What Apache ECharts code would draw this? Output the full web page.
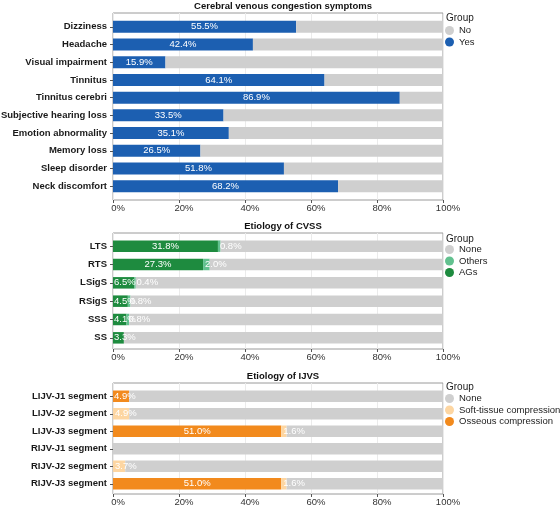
<html>
<head>
    <meta charset="utf-8">
    <script src="https://cdn.jsdelivr.net/npm/echarts@6/dist/echarts.min.js"></script>
    <style>
        body { margin: 0; background: #fff; }
    </style>
</head>
<body>
<div id="main" style="width: 560px;height:508px;"></div>
</body>
<script type="text/javascript">
    // panel 1 : symptoms
    var symptoms = ['Dizziness', 'Headache', 'Visual impairment', 'Tinnitus', 'Tinnitus cerebri',
        'Subjective hearing loss', 'Emotion abnormality', 'Memory loss', 'Sleep disorder', 'Neck discomfort'];
    var symptomYes = [55.5, 42.4, 15.9, 64.1, 86.9, 33.5, 35.1, 26.5, 51.8, 68.2];
    var symptomNo = [44.5, 57.6, 84.1, 35.9, 13.1, 66.5, 64.9, 73.5, 48.2, 31.8];

    // panel 2 : etiology of CVSS
    var sinuses = ['LTS', 'RTS', 'LSigS', 'RSigS', 'SSS', 'SS'];
    var cvssAGs = [31.8, 27.3, 6.5, 4.5, 4.1, 3.3];
    var cvssOthers = [0.8, 2.0, 0.4, 0.8, 0.8, 0];
    var cvssNone = [67.4, 70.7, 93.1, 94.7, 95.1, 96.7];

    // panel 3 : etiology of IJVS
    var segments = ['LIJV-J1 segment', 'LIJV-J2 segment', 'LIJV-J3 segment',
        'RIJV-J1 segment', 'RIJV-J2 segment', 'RIJV-J3 segment'];
    var ijvOsseous = [4.9, 0, 51.0, 0, 0, 51.0];
    var ijvSoft = [0, 4.9, 1.6, 0, 3.7, 1.6];
    var ijvNone = [95.1, 95.1, 47.4, 100, 96.3, 47.4];

    var tickLabels = ['0%', '20%', '40%', '60%', '80%', '100%'];

    var FONT = '"Liberation Sans", Arial, sans-serif';
    var FS = 9.5;
    var GREY = '#cfcfcf';

    var myChart = echarts.init(document.getElementById('main'));

    // panel frames (outer box) and inner bar areas
    var panels = [
        {frameTop: 13, frameH: 187, barTop: 18, barH: 177},
        {frameTop: 233, frameH: 116, barTop: 237, barH: 110},
        {frameTop: 383, frameH: 111, barTop: 387.5, barH: 105}
    ];
    var catLists = [symptoms, sinuses, segments];

    var grids = [], xAxes = [], yAxes = [];
    panels.forEach(function (p, i) {
        // frame grid
        grids.push({left: 113, width: 330, top: p.frameTop, height: p.frameH, outerBoundsMode: 'none',
            show: true, borderColor: '#9a9a9a', borderWidth: 1, backgroundColor: '#fff'});
        xAxes.push({type: 'value', gridIndex: 2 * i, min: 0, max: 100, interval: 20,
            axisLine: {show: false},
            axisTick: {show: true, length: 3, lineStyle: {color: '#555'}},
            splitLine: {show: true, lineStyle: {color: '#ebebeb', width: 1}},
            axisLabel: {fontSize: FS, color: '#333', fontFamily: FONT, margin: 3,
                padding: [0, 0, 0, 10],
                formatter: function (v) { return tickLabels[v / 20]; }}
        });
        yAxes.push({type: 'value', gridIndex: 2 * i, show: false, min: 0, max: 1,
            splitLine: {show: false}});
        // bar grid
        grids.push({left: 113, width: 330, top: p.barTop, height: p.barH, outerBoundsMode: 'none'});
        xAxes.push({type: 'value', gridIndex: 2 * i + 1, min: 0, max: 100, show: false,
            splitLine: {show: false}});
        yAxes.push({type: 'category', gridIndex: 2 * i + 1, inverse: true, data: catLists[i],
            axisLine: {show: false},
            axisTick: {show: true, length: 3, alignWithLabel: true, lineStyle: {color: '#555'}},
            axisLabel: {fontSize: FS, fontWeight: 'bold', color: '#1a1a1a', fontFamily: FONT, margin: 6}
        });
    });

    function pct(p) {
        return p.value > 0 ? p.value.toFixed(1) + '%' : '';
    }

    // small segments get their label pushed to the left edge
    function labelled(values, limit) {
        return values.map(function (v) {
            if (v > 0 && v < limit) {
                return {value: v, label: {position: 'insideLeft', distance: 1}};
            }
            return v;
        });
    }

    var valLabel = {show: true, position: 'inside', color: '#fff', fontSize: FS,
        fontFamily: FONT, formatter: pct};
    var leftLabel = {show: true, position: 'insideLeft', distance: 2, color: '#fff', fontSize: FS,
        fontFamily: FONT, formatter: pct};

    function bar(name, data, color, idx, label, width) {
        return {
            name: name, type: 'bar', stack: 'p' + idx,
            xAxisIndex: 2 * idx + 1, yAxisIndex: 2 * idx + 1,
            data: data, barWidth: width,
            itemStyle: {color: color},
            label: label || {show: false},
            emphasis: {disabled: true},
            animation: false
        };
    }

    var series = [
        bar('Yes', symptomYes, '#1c5fb1', 0, valLabel, 12),
        bar('No', symptomNo, GREY, 0, null, 12),
        bar('AGs', labelled(cvssAGs, 10), '#1e8b3f', 1, valLabel, 11.5),
        bar('Others', cvssOthers, '#62c18f', 1, leftLabel, 11.5),
        bar('None', cvssNone, GREY, 1, null, 11.5),
        bar('Osseous compression', labelled(ijvOsseous, 10), '#f28a1d', 2, valLabel, 11.5),
        bar('Soft-tissue compression', ijvSoft, '#fdd6a2', 2, leftLabel, 11.5),
        bar('None', ijvNone, GREY, 2, null, 11.5)
    ];

    var titleStyle = {fontSize: FS, fontWeight: 'bold', color: '#111', fontFamily: FONT};
    var groupStyle = {fontSize: FS + 0.5, fontWeight: 'normal', color: '#222', fontFamily: FONT};

    function legend(top, names) {
        return {orient: 'vertical', left: 445, top: top, data: names, padding: 0,
            icon: 'circle', itemWidth: 9, itemHeight: 9, itemGap: 1.5,
            textStyle: {fontSize: FS, color: '#222', fontFamily: FONT},
            selectedMode: false};
    }

    var option = {
        backgroundColor: '#fff',
        animation: false,
        title: [
            {text: 'Cerebral venous congestion symptoms', left: 278, textAlign: 'center', top: -4, textStyle: titleStyle},
            {text: 'Etiology of CVSS', left: 278, textAlign: 'center', top: 216, textStyle: titleStyle},
            {text: 'Etiology of IJVS', left: 278, textAlign: 'center', top: 366, textStyle: titleStyle},
            {text: 'Group', left: 441, top: 8, textStyle: groupStyle},
            {text: 'Group', left: 441, top: 229, textStyle: groupStyle},
            {text: 'Group', left: 441, top: 377, textStyle: groupStyle}
        ],
        legend: [
            legend(25.5, ['No', 'Yes']),
            legend(244.5, ['None', 'Others', 'AGs']),
            legend(393.5, ['None', 'Soft-tissue compression', 'Osseous compression'])
        ],
        grid: grids,
        xAxis: xAxes,
        yAxis: yAxes,
        series: series
    };

    myChart.setOption(option);
</script>
</html>
